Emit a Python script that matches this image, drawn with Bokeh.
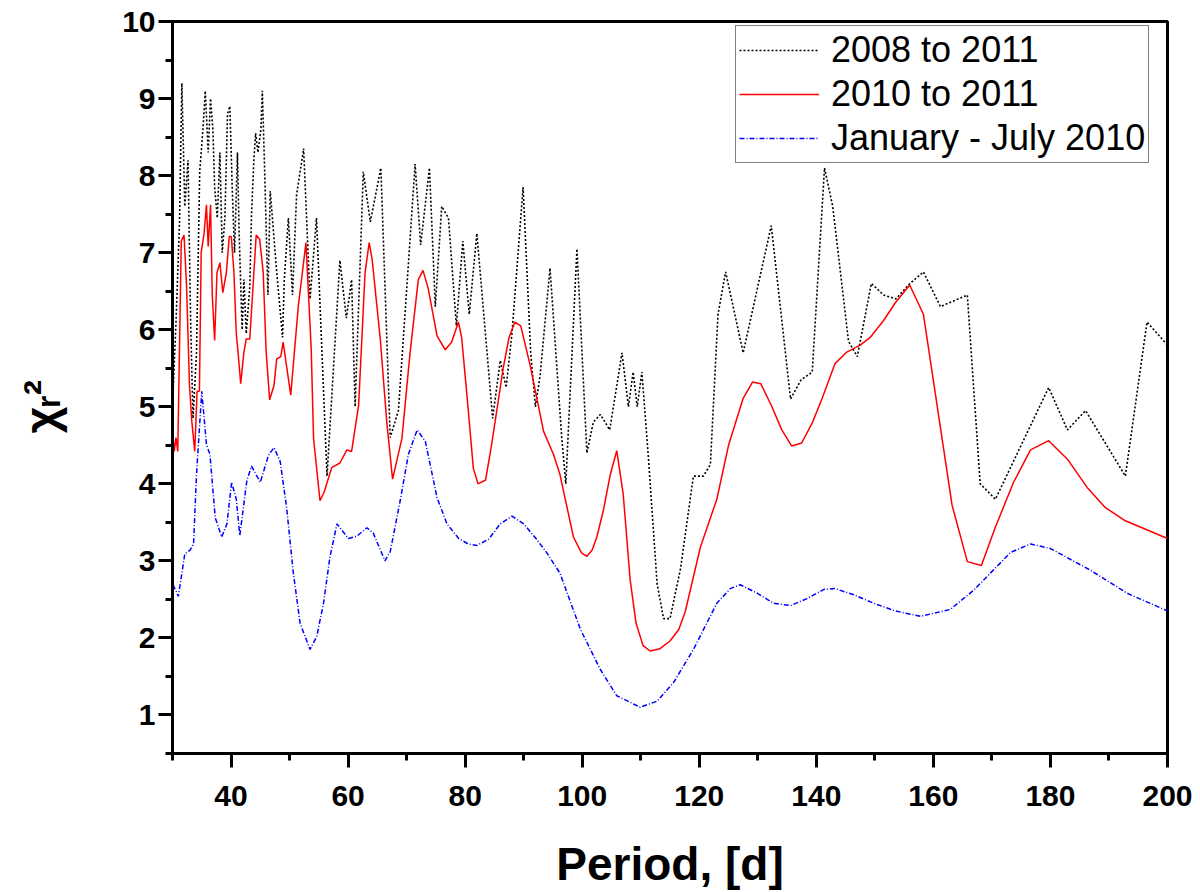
from bokeh.plotting import figure
from bokeh.models import Range1d, FixedTicker
from bokeh.embed import file_html
from bokeh.resources import INLINE

# Values (period in days, reduced chi-square)
period_0811 = [30.0, 30.6, 31.2, 31.6, 32.1, 32.65, 33.1, 33.5, 34.1, 34.65, 35.2, 35.6, 36.1, 36.5,
               36.9, 37.2, 37.65, 38.1, 38.5, 38.95, 39.4, 39.8, 40.2, 40.6, 41.1, 41.4, 41.9, 42.2,
               42.6, 43.2, 43.5, 43.9, 44.2, 44.6, 45.1, 45.35, 45.75, 46.3, 46.7, 47.8, 48.8, 49.1,
               49.8, 50.5, 51.2, 52.4, 53.5, 54.6, 56.4, 58.6, 59.7, 60.6, 61.2, 62.6, 63.8, 65.6,
               67.2, 68.6, 70.3, 71.45, 72.4, 73.9, 74.9, 76.0, 77.15, 78.5, 79.6, 80.7, 82.0, 84.7,
               86.0, 87.0, 88.0, 89.9, 91.2, 92.0, 92.8, 94.5, 96.5, 97.2, 99.1, 100.8, 101.9, 103.1,
               104.7, 106.8, 107.9, 108.7, 109.4, 110.2, 111.3, 112.8, 113.9, 115.0, 116.8, 119.0,
               120.7, 121.9, 123.2, 124.5, 127.5, 132.3, 135.6, 137.4, 139.3, 141.4, 142.8, 145.5,
               147.0, 149.4, 151.5, 153.6, 156.0, 158.3, 161.2, 165.8, 168.0, 170.6, 179.7, 182.9,
               186.0, 192.8, 196.5, 200.0]
chi_0811 = [5.0, 6.1, 7.4, 9.2, 7.6, 8.2, 6.1, 4.85, 5.7, 8.05, 8.6, 9.1, 8.3, 9.0,
            8.6, 7.85, 7.45, 8.3, 7.0, 7.45, 8.8, 8.9, 7.85, 7.0, 8.3, 7.2, 6.0, 6.65,
            5.95, 6.55, 7.5, 8.2, 8.55, 8.3, 8.6, 9.1, 8.05, 6.45, 7.8, 6.75, 5.9, 6.65,
            7.45, 6.45, 7.75, 8.35, 6.4, 7.45, 4.1, 6.9, 6.15, 6.65, 5.0, 8.05, 7.4, 8.1,
            4.6, 4.95, 6.85, 8.15, 7.1, 8.1, 6.3, 7.6, 7.45, 6.05, 7.15, 6.2, 7.25, 4.85,
            5.6, 5.25, 5.95, 7.85, 5.7, 5.0, 5.4, 6.8, 4.6, 4.0, 7.05, 4.4, 4.8, 4.9,
            4.7, 5.7, 5.0, 5.45, 5.0, 5.45, 4.35, 2.7, 2.25, 2.25, 2.9, 4.1,
            4.1, 4.25, 6.2, 6.75, 5.7, 7.35, 5.1, 5.35, 5.45, 8.1, 7.6, 5.85,
            5.65, 6.6, 6.45, 6.4, 6.6, 6.75, 6.3, 6.45, 4.0, 3.8, 5.25, 4.7,
            4.95, 4.1, 6.1, 5.8]

period_1011 = [30.0, 30.3, 30.6, 30.9, 31.5, 31.97, 32.4, 32.9, 33.3, 33.8, 34.2, 34.6, 34.9, 35.4,
               35.8, 36.1, 36.5, 36.8, 37.2, 37.6, 38.1, 38.6, 39.2, 39.7, 40.05, 40.5, 40.9, 41.2,
               41.65, 42.2, 42.6, 43.2, 43.8, 44.3, 44.9, 45.5, 46.0, 46.6, 47.35, 47.8, 48.5, 48.9,
               50.2, 51.5, 52.8, 53.7, 54.1, 55.2, 55.9, 57.2, 58.6, 59.8, 60.6, 61.8, 62.9, 63.6,
               64.1, 65.5, 66.6, 67.6, 69.2, 70.6, 72.0, 72.8, 73.7, 75.2, 76.6, 77.7, 78.85, 79.4,
               80.4, 81.4, 82.2, 83.5, 84.5, 85.5, 86.5, 87.5, 88.5, 89.5, 91.1, 93.4, 95.1, 96.2,
               98.5, 99.9, 100.8, 101.7, 102.5, 103.6, 104.8, 105.9, 107.0, 108.2, 109.2, 110.4,
               111.6, 113.3, 115.0, 116.5, 117.6, 120.2, 123.0, 125.0, 127.5, 129.1, 130.5, 132.3,
               134.1, 135.8, 137.5, 139.3, 141.0, 143.2, 145.2, 147.5, 149.2, 151.5, 153.5, 155.95,
               158.3, 163.2, 165.8, 168.2, 170.6, 173.7, 176.6, 179.7, 182.9, 186.3, 189.4, 192.8,
               200.0]
chi_1011 = [4.7, 4.42, 4.6, 4.42, 7.15, 7.23, 6.57, 5.28, 4.81, 4.42, 5.2, 5.2, 7.0, 7.25,
            7.62, 7.08, 7.62, 6.44, 5.86, 6.74, 6.87, 6.48, 6.74, 7.21, 7.21, 6.74, 5.95, 5.71,
            5.3, 5.71, 5.88, 5.88, 6.61, 7.23, 7.17, 6.74, 5.71, 5.09, 5.28, 5.62, 5.65, 5.84,
            5.15, 6.31, 7.13, 5.75, 4.59, 3.78, 3.89, 4.21, 4.27, 4.44, 4.42, 5.02, 6.74, 7.13,
            6.92, 5.88, 4.81, 4.06, 4.59, 5.71, 6.65, 6.77, 6.53, 5.92, 5.74, 5.84, 6.1, 5.9,
            5.07, 4.2, 4.0, 4.05, 4.5, 5.0, 5.5, 5.9, 6.1, 6.05, 5.54, 4.68, 4.38, 4.12,
            3.31, 3.1, 3.06, 3.14, 3.31, 3.65, 4.12, 4.43, 3.87, 2.75, 2.19, 1.9,
            1.83, 1.86, 1.96, 2.11, 2.34, 3.18, 3.8, 4.5, 5.11, 5.32, 5.3, 5.02,
            4.7, 4.49, 4.53, 4.79, 5.11, 5.56, 5.71, 5.8, 5.9, 6.12, 6.35, 6.58,
            6.2, 3.72, 2.99, 2.94, 3.44, 4.02, 4.44, 4.56, 4.32, 3.95, 3.69, 3.52,
            3.29]

period_jj10 = [30.1, 31.0, 32.1, 33.0, 33.6, 34.1, 35.0, 35.8, 36.4, 37.3, 38.4, 39.3, 40.1, 40.9,
               41.5, 42.7, 43.5, 45.0, 46.4, 47.35, 48.4, 49.5, 50.65, 51.8, 53.5, 54.65, 55.8,
               56.9, 58.1, 60.05, 61.5, 63.2, 64.3, 66.3, 67.2, 68.9, 70.3, 71.8, 73.2, 75.2, 76.9,
               78.9, 80.5, 82.0, 84.0, 86.0, 88.0, 90.0, 92.0, 94.0, 96.2, 99.7, 103.1, 105.9,
               109.9, 112.8, 115.6, 119.0, 123.0, 125.3, 127.0, 129.9, 132.7, 135.6, 138.4, 141.3,
               143.2, 146.4, 149.8, 153.5, 157.8, 162.9, 166.9, 173.2, 176.6, 180.0, 186.8, 193.1,
               200.0]
chi_jj10 = [2.69, 2.54, 3.09, 3.14, 3.22, 4.12, 5.2, 4.51, 4.38, 3.56, 3.31, 3.48, 4.02, 3.8,
            3.33, 4.04, 4.23, 4.02, 4.37, 4.47, 4.29, 3.69, 2.84, 2.19, 1.85, 2.02, 2.45,
            3.05, 3.48, 3.29, 3.32, 3.43, 3.36, 3.0, 3.12, 3.78, 4.38, 4.7, 4.55, 3.82, 3.48,
            3.29, 3.22, 3.2, 3.28, 3.48, 3.58, 3.48, 3.3, 3.1, 2.84, 2.11, 1.59, 1.25,
            1.1, 1.18, 1.42, 1.85, 2.45, 2.64, 2.69, 2.58, 2.45, 2.42, 2.51, 2.63,
            2.64, 2.56, 2.45, 2.35, 2.28, 2.37, 2.62, 3.11, 3.22, 3.16, 2.88, 2.58,
            2.35]

x_major = [40, 60, 80, 100, 120, 140, 160, 180, 200]
x_minor = [30, 50, 70, 90, 110, 130, 150, 170, 190]
y_major = [1, 2, 3, 4, 5, 6, 7, 8, 9, 10]
y_minor = [0.5, 1.5, 2.5, 3.5, 4.5, 5.5, 6.5, 7.5, 8.5, 9.5]

FONT = "Liberation Sans"

p = figure(width=1200, height=892,
           x_range=Range1d(30, 200), y_range=Range1d(0.5, 10),
           output_backend="svg", toolbar_location=None,
           min_border_left=172, min_border_right=33,
           min_border_top=21, min_border_bottom=135)
p.title.visible = False
p.grid.visible = False
p.background_fill_color = "white"
p.border_fill_color = "white"
p.outline_line_color = "black"
p.outline_line_width = 3

p.line(period_0811, chi_0811, color="black", line_width=1.6, line_dash="2 2",
       legend_label="2008 to 2011")
p.line(period_1011, chi_1011, color="#ff0000", line_width=1.5,
       legend_label="2010 to 2011")
p.line(period_jj10, chi_jj10, color="#0000ff", line_width=1.5, line_dash="5 2 1 2",
       legend_label="January - July 2010")

# axes
p.xaxis.ticker = FixedTicker(ticks=x_major, minor_ticks=x_minor)
p.yaxis.ticker = FixedTicker(ticks=y_major, minor_ticks=y_minor)
for ax in (p.xaxis[0], p.yaxis[0]):
    ax.axis_line_width = 3
    ax.axis_line_color = "black"
    ax.major_tick_line_width = 3
    ax.minor_tick_line_width = 3
    ax.major_tick_line_color = "black"
    ax.minor_tick_line_color = "black"
    ax.major_tick_in = 0
    ax.major_tick_out = 14
    ax.minor_tick_in = 0
    ax.minor_tick_out = 7
    ax.major_label_text_font = FONT
    ax.major_label_text_font_style = "bold"
    ax.major_label_text_font_size = "30px"
    ax.major_label_text_color = "black"
    ax.axis_label_text_font = FONT
    ax.axis_label_text_font_style = "bold"
    ax.axis_label_text_font_size = "46px"
    ax.axis_label_text_color = "black"

p.xaxis.major_label_standoff = 18
p.xaxis.axis_label = "Period, [d]"
p.xaxis.axis_label_standoff = 29
p.yaxis.major_label_standoff = 3
# trailing no-break spaces nudge the centred title towards the bottom, as in the original
p.yaxis.axis_label = "χᵣ²\u00a0\u00a0\u00a0"
p.yaxis.axis_label_standoff = 52

# legend
lg = p.legend[0]
lg.location = (563, 590)
lg.margin = 0
lg.padding = 3
lg.spacing = 2
lg.glyph_width = 80
lg.glyph_height = 42
lg.label_standoff = 12
lg.label_text_font = FONT
lg.label_text_font_size = "36px"
lg.label_text_color = "black"
lg.border_line_color = "black"
lg.border_line_width = 1
lg.background_fill_alpha = 1

open("out.html", "w").write(file_html(p, INLINE))
